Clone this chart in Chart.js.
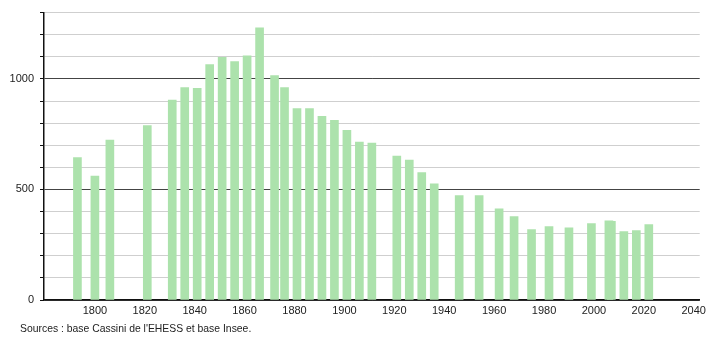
<!DOCTYPE html>
<html>
<head>
<meta charset="utf-8">
<script src="https://cdn.jsdelivr.net/npm/chart.js@4"></script>
<style>
  html, body { margin: 0; padding: 0; background: #fff; }
  #wrap { position: relative; width: 710px; height: 340px; }
  #source { position: absolute; left: 20px; top: 323px; font: 10.4px "Liberation Sans", Arial, sans-serif; color: #222; white-space: nowrap; }
</style>
</head>
<body>
<div id="wrap">
  <canvas id="pop" width="710" height="340"></canvas>
  <div id="source">Sources : base Cassini de l'EHESS et base Insee.</div>
</div>
<script>
// census years and population
const years = [1793, 1800, 1806, 1821, 1831, 1836, 1841, 1846, 1851, 1856, 1861, 1866,
  1872, 1876, 1881, 1886, 1891, 1896, 1901, 1906, 1911, 1921, 1926, 1931, 1936,
  1946, 1954, 1962, 1968, 1975, 1982, 1990, 1999, 2006, 2007, 2012, 2017, 2022];
const population = [644, 560, 723, 789, 904, 961, 957, 1065, 1098, 1078, 1105, 1231,
  1015, 961, 866, 866, 831, 813, 768, 714, 710, 651, 633, 576, 525,
  472, 472, 412, 377, 319, 332, 326, 346, 358, 356, 310, 314, 341];
const yLabels = [0, 500, 1000];

const font = { family: "'Liberation Sans', Arial, sans-serif", size: 11 };

new Chart(document.getElementById('pop'), {
  type: 'bar',
  data: {
    datasets: [{
      data: years.map((y, i) => ({ x: y, y: population[i] })),
      backgroundColor: 'rgb(172,226,172)',
      borderWidth: 0,
      barThickness: 8
    }]
  },
  options: {
    responsive: false,
    animation: false,
    layout: { padding: { left: 0, top: 6, right: 5, bottom: 0 } },
    plugins: { legend: { display: false }, tooltip: { enabled: false } },
    scales: {
      x: {
        type: 'linear',
        offset: false,
        min: 1779.6,
        max: 2042.4,
        afterFit: s => { s.height = 40; },
        ticks: {
          stepSize: 20, includeBounds: false, color: '#222', font, padding: 4, maxRotation: 0,
          callback: v => v >= 1800 ? String(v) : ''
        },
        grid: { color: 'transparent', drawTicks: false },
        border: { display: true, color: '#111', width: 1.5 }
      },
      y: {
        min: 0,
        max: 1300,
        afterFit: s => { s.width = 44; },
        ticks: {
          stepSize: 100,
          color: '#222',
          font,
          padding: 6,
          callback: v => yLabels.includes(v) ? String(v) : ''
        },
        grid: {
          color: c => (c.tick.value % 500 === 0) ? '#444' : '#cfcfcf',
          tickColor: '#111',
          tickLength: 4,
          lineWidth: 1
        },
        border: { display: true, color: '#111', width: 1.5 }
      }
    }
  }
});
</script>
</body>
</html>
